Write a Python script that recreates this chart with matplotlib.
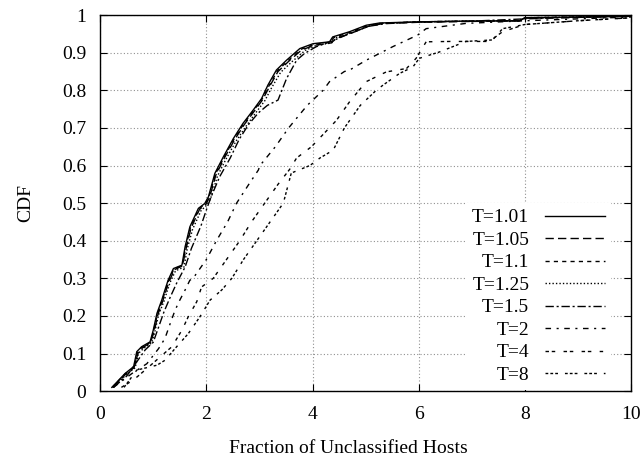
import matplotlib
matplotlib.use("Agg")
import matplotlib.pyplot as plt

plt.rcParams['font.family'] = ['Liberation Serif', 'DejaVu Serif']

labels = ["T=1.01", "T=1.05", "T=1.1", "T=1.25", "T=1.5", "T=2", "T=4", "T=8"]

x_101 = [0.22, 0.47, 0.63, 0.69, 0.78, 0.94, 1.0, 1.07, 1.16, 1.22, 1.28, 1.38, 1.54, 1.6, 1.69, 1.85, 1.97, 2.04, 2.16, 2.32, 2.51, 2.69, 2.88, 3.04, 3.16, 3.32, 3.51, 3.76, 4.01, 4.32, 4.38, 4.7, 5.01, 5.26, 5.95, 6.89, 7.9, 8.0, 9.0, 10.0]
y_101 = [0.01, 0.047, 0.065, 0.105, 0.118, 0.131, 0.162, 0.207, 0.242, 0.269, 0.295, 0.326, 0.335, 0.384, 0.437, 0.486, 0.499, 0.517, 0.579, 0.623, 0.672, 0.712, 0.747, 0.778, 0.814, 0.854, 0.88, 0.911, 0.924, 0.929, 0.942, 0.956, 0.973, 0.979, 0.982, 0.984, 0.985, 0.993, 0.995, 0.997]

x_105 = [0.24, 0.48, 0.64, 0.71, 0.8, 0.95, 1.02, 1.09, 1.18, 1.24, 1.3, 1.4, 1.55, 1.62, 1.71, 1.87, 1.99, 2.06, 2.18, 2.34, 2.53, 2.71, 2.9, 3.06, 3.19, 3.35, 3.55, 3.8, 4.05, 4.35, 4.45, 4.75, 5.05, 5.3, 6.0, 6.9, 7.9, 8.0, 9.0, 10.0]
y_105 = [0.01, 0.045, 0.063, 0.1, 0.115, 0.13, 0.16, 0.205, 0.24, 0.267, 0.292, 0.323, 0.333, 0.38, 0.433, 0.483, 0.497, 0.515, 0.575, 0.62, 0.668, 0.708, 0.744, 0.775, 0.81, 0.85, 0.877, 0.908, 0.92, 0.926, 0.938, 0.953, 0.97, 0.977, 0.981, 0.983, 0.985, 0.992, 0.994, 0.997]

x_110 = [0.23, 0.47, 0.65, 0.7, 0.79, 0.95, 1.01, 1.08, 1.17, 1.23, 1.29, 1.39, 1.55, 1.61, 1.7, 1.86, 1.98, 2.05, 2.17, 2.33, 2.52, 2.7, 2.89, 3.05, 3.18, 3.34, 3.53, 3.78, 4.03, 4.33, 4.4, 4.72, 5.03, 5.28, 5.97, 6.9, 7.9, 8.0, 9.0, 10.0]
y_110 = [0.01, 0.046, 0.064, 0.103, 0.117, 0.13, 0.161, 0.206, 0.241, 0.268, 0.294, 0.325, 0.334, 0.382, 0.435, 0.485, 0.498, 0.516, 0.577, 0.621, 0.67, 0.71, 0.746, 0.777, 0.812, 0.852, 0.878, 0.909, 0.922, 0.928, 0.94, 0.955, 0.972, 0.978, 0.982, 0.984, 0.985, 0.993, 0.995, 0.997]

x_125 = [0.25, 0.5, 0.66, 0.72, 0.82, 0.97, 1.03, 1.1, 1.2, 1.26, 1.32, 1.42, 1.58, 1.64, 1.74, 1.9, 2.01, 2.08, 2.21, 2.37, 2.56, 2.75, 2.94, 3.1, 3.23, 3.4, 3.62, 3.86, 4.08, 4.36, 4.44, 4.76, 5.06, 5.3, 6.0, 6.9, 7.9, 8.0, 9.0, 10.0]
y_125 = [0.01, 0.045, 0.062, 0.1, 0.114, 0.128, 0.158, 0.203, 0.238, 0.265, 0.29, 0.32, 0.33, 0.378, 0.43, 0.48, 0.495, 0.512, 0.572, 0.617, 0.665, 0.705, 0.742, 0.772, 0.807, 0.848, 0.877, 0.906, 0.92, 0.926, 0.94, 0.954, 0.971, 0.978, 0.982, 0.984, 0.985, 0.993, 0.995, 0.997]

x_150 = [0.25, 0.5, 0.7, 0.85, 1.0, 1.1, 1.2, 1.32, 1.45, 1.6, 1.72, 1.9, 2.02, 2.1, 2.25, 2.45, 2.62, 2.8, 2.98, 3.15, 3.35, 3.51, 3.7, 3.85, 4.07, 4.35, 4.7, 5.05, 5.4, 6.0, 7.0, 8.0, 9.0, 10.0]
y_150 = [0.01, 0.04, 0.08, 0.11, 0.13, 0.17, 0.21, 0.25, 0.29, 0.33, 0.38, 0.44, 0.49, 0.52, 0.57, 0.62, 0.67, 0.71, 0.74, 0.76, 0.774, 0.831, 0.88, 0.898, 0.916, 0.93, 0.951, 0.97, 0.978, 0.982, 0.984, 0.99, 0.994, 0.997]

x_2 = [0.25, 0.6, 0.88, 1.1, 1.22, 1.32, 1.41, 1.5, 1.6, 1.69, 1.75, 2.0, 2.19, 2.4, 2.57, 2.8, 2.98, 3.01, 3.3, 3.55, 3.9, 4.2, 4.32, 4.6, 4.7, 5.01, 5.51, 5.98, 6.14, 6.89, 8.0, 9.0, 10.0]
y_2 = [0.01, 0.047, 0.073, 0.113, 0.14, 0.18, 0.215, 0.242, 0.269, 0.295, 0.3, 0.35, 0.4, 0.45, 0.5, 0.55, 0.588, 0.6, 0.65, 0.7, 0.76, 0.8, 0.823, 0.85, 0.854, 0.88, 0.916, 0.947, 0.964, 0.978, 0.985, 0.99, 0.995]

x_4 = [0.4, 0.63, 0.88, 1.13, 1.35, 1.54, 1.66, 1.82, 1.91, 2.13, 2.38, 2.63, 2.85, 3.1, 3.35, 3.57, 3.7, 3.98, 4.45, 4.7, 5.01, 5.39, 5.77, 5.95, 6.14, 6.6, 7.33, 7.58, 8.0, 9.0, 10.0]
y_4 = [0.01, 0.03, 0.06, 0.091, 0.118, 0.162, 0.198, 0.238, 0.277, 0.3, 0.35, 0.4, 0.45, 0.5, 0.55, 0.59, 0.62, 0.65, 0.72, 0.77, 0.823, 0.849, 0.858, 0.885, 0.929, 0.93, 0.93, 0.956, 0.975, 0.985, 0.993]

x_8 = [0.45, 0.69, 1.07, 1.22, 1.44, 1.66, 1.88, 2.07, 2.29, 2.48, 2.7, 2.95, 3.2, 3.45, 3.6, 3.95, 4.14, 4.39, 4.6, 4.9, 5.2, 5.33, 5.64, 5.89, 6.01, 6.39, 6.89, 7.14, 7.39, 7.58, 8.0, 9.0, 10.0]
y_8 = [0.01, 0.056, 0.069, 0.082, 0.118, 0.153, 0.198, 0.242, 0.269, 0.3, 0.35, 0.4, 0.45, 0.5, 0.58, 0.6, 0.62, 0.641, 0.7, 0.76, 0.8, 0.814, 0.845, 0.862, 0.885, 0.902, 0.93, 0.932, 0.934, 0.964, 0.975, 0.985, 0.993]

xs = [x_101, x_105, x_110, x_125, x_150, x_2, x_4, x_8]
ys = [y_101, y_105, y_110, y_125, y_150, y_2, y_4, y_8]

styles = ['-', (0, (6, 3)), (0, (3, 3)), (0, (1, 1.5)), (0, (6, 2, 1.5, 2)),
          (0, (4, 4, 1.5, 4)), (0, (2.5, 2, 2.5, 6)), (0, (2, 1.5, 2, 1.5, 2, 5))]

fig = plt.figure(figsize=(6.42, 4.58), dpi=100)
ax = fig.add_axes([0.156, 0.146, 0.827, 0.821])

for x, y, lab, ls in zip(xs, ys, labels, styles):
    ax.plot(x, y, color='black', linestyle=ls, linewidth=1.0, label=lab)

ax.set_xlim(0, 10)
ax.set_ylim(0, 1)
ax.set_xticks([0, 2, 4, 6, 8, 10])
ax.set_yticks([0, 0.1, 0.2, 0.3, 0.4, 0.5, 0.6, 0.7, 0.8, 0.9, 1])
ax.set_yticklabels(["0", "0.1", "0.2", "0.3", "0.4", "0.5", "0.6", "0.7", "0.8", "0.9", "1"])
ax.tick_params(direction='in', length=5, width=0.8, top=True, right=True, labelsize=14)
ax.tick_params(axis='x', pad=10.5)
ax.tick_params(axis='y', pad=10)
ax.grid(True, color='#909090', linestyle=(0, (1, 2)), linewidth=0.8)
for s in ax.spines.values():
    s.set_linewidth(1.0)

ax.set_xlabel("Fraction of Unclassified Hosts", fontsize=14, ha='left')
ax.xaxis.set_label_coords(0.243, -0.13)
ax.set_ylabel("CDF", fontsize=14)
ax.yaxis.set_label_coords(-0.125, 0.5)

leg = ax.legend(loc='lower right', bbox_to_anchor=(0.962, 0.004), markerfirst=False,
                frameon=True, fancybox=False, edgecolor='none', facecolor='white', framealpha=1.0,
                fontsize=14, handlelength=3.1, handletextpad=0.8, labelspacing=0.25,
                borderpad=0.3, borderaxespad=0)

fig.savefig("out.png", dpi=100)
